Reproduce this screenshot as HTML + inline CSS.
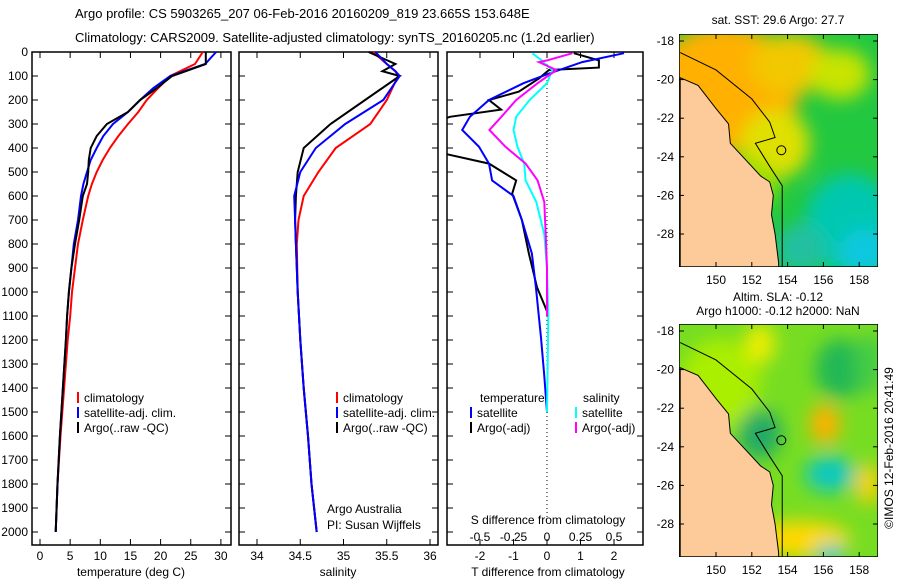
<!DOCTYPE html>
<html><head><meta charset="utf-8"><style>
body{margin:0;background:#fff;font-family:"Liberation Sans",sans-serif}
svg text{font-family:"Liberation Sans",sans-serif;font-size:12px;fill:#000}
</style></head><body>
<svg id="c" width="900" height="580" viewBox="0 0 900 580">
<text x="75" y="18" style="font-size:13px">Argo profile: CS 5903265_207 06-Feb-2016 20160209_819 23.665S 153.648E</text>
<text x="75" y="42" style="font-size:13px">Climatology: CARS2009. Satellite-adjusted climatology: synTS_20160205.nc (1.2d earlier)</text>
<defs>
<clipPath id="cp3"><rect x="447" y="52" width="196" height="493"/></clipPath>
<clipPath id="cm1"><rect x="679" y="34" width="199" height="233"/></clipPath>
<clipPath id="cm2"><rect x="679" y="324" width="199" height="233"/></clipPath>
<filter id="bl"><feGaussianBlur stdDeviation="9"/></filter>
</defs>
<g id="g"></g>
</svg>
<script>
const depthT=[0,50,100,150,200,250,300,350,400,450,500,550,600,700,800,900,1000,1100,1200,1400,1600,1800,2000];
const climT=[27.0,25.7,21.6,19.6,17.7,16.3,14.6,13.0,11.6,10.4,9.4,8.6,8.0,7.1,6.3,5.8,5.3,5.0,4.6,4.0,3.4,2.9,2.6];
const satT=[29.2,27.4,21.6,18.8,16.6,14.6,12.1,10.5,9.4,8.4,7.8,7.2,6.8,6.3,5.6,5.2,4.8,4.5,4.3,3.8,3.3,2.9,2.6];
const argoT=[27.5,27.5,21.9,19.4,16.6,14.6,11.1,9.4,8.4,8.1,8.0,7.8,7.1,6.5,5.8,5.2,4.8,4.5,4.3,3.8,3.3,2.9,2.6];
const depthS=[0,50,80,100,200,300,400,500,600,700,800,1000,1200,1400,1600,1800,2000];
const climS=[35.34,35.5,35.6,35.63,35.5,35.31,34.91,34.71,34.54,34.48,34.46,34.47,34.5,34.54,34.59,34.63,34.69];
const satS=[35.37,35.5,35.6,35.65,35.46,35.02,34.68,34.5,34.43,34.44,34.45,34.47,34.5,34.54,34.59,34.63,34.69];
const argoS=[35.29,35.6,35.45,35.65,35.25,34.85,34.54,34.47,34.45,34.44,34.45,34.47,34.5,34.54,34.59,34.63,34.69];
const depthDT=[5,42,90,130,200,270,325,395,465,535,600,700,840,980,1190,1350,1500];
const satDT=[2.3,1.05,0.06,-0.7,-1.73,-2.3,-2.53,-2.03,-1.73,-1.64,-1.0,-0.75,-0.45,-0.33,-0.18,-0.08,0];
const depthDTa=[5,35,65,75,110,165,200,240,270,300,410,465,535,590,700,840,980,1080];
const argoDT=[0.8,1.55,1.55,0.06,-0.24,-0.84,-1.73,-1.37,-2.9,-3.5,-3.5,-1.73,-0.92,-1.04,-0.75,-0.54,-0.3,0];
const depthDS=[5,35,42,75,130,200,270,325,395,465,535,625,760,900,1100,1300,1500];
const satDS=[-0.11,-0.04,-0.03,0.04,0,-0.13,-0.23,-0.25,-0.22,-0.17,-0.16,-0.08,-0.02,0,0.01,0.005,0];
const argoDS=[0.19,0.0,-0.06,0.07,-0.07,-0.23,-0.34,-0.43,-0.31,-0.16,-0.07,-0.02,-0.01,0,0];
const depthTicks=[0,100,200,300,400,500,600,700,800,900,1000,1100,1200,1300,1400,1500,1600,1700,1800,1900,2000];
const tTicks=[0,5,10,15,20,25,30];
const sTicks=["34","34.5","35","35.5","36"];
const dTTicks=["-2","-1","0","1","2"];
const dSTicks=["-0.5","-0.25","0","0.25","0.5"];
const latTicks=[-18,-20,-22,-24,-26,-28];
const lonTicks=[150,152,154,156,158];

const NS='http://www.w3.org/2000/svg';const G=document.getElementById('g');
function mk(t,a,txt){const e=document.createElementNS(NS,t);for(const k in a)e.setAttribute(k,a[k]);if(txt!==undefined)e.textContent=txt;G.appendChild(e);return e;}
const yD=d=>52+d*0.24;
const xT=v=>40+v*6.03, xS=v=>257+(v-34)*86.5, xdT=v=>547+v*33.5, xdS=v=>547+v*134;
function line(xs,ds,fx,col,name,clip){const pts=xs.map((v,i)=>fx(v).toFixed(1)+','+yD(ds[i]).toFixed(1)).join(' ');
 const e=mk('polyline',{points:pts,fill:'none',stroke:col,'stroke-width':2});
 
 
 if(clip)e.setAttribute('clip-path','url(#cp3)');}
const panels=[[32,231],[239,438],[447,643]];
panels.forEach((p,i)=>{const r=mk('rect',{x:p[0],y:52,width:p[1]-p[0],height:493,fill:'none',stroke:'#000','stroke-width':1.5});
 
 
 depthTicks.forEach(d=>{mk('line',{x1:p[0],x2:p[0]+6,y1:yD(d),y2:yD(d),stroke:'#000'});mk('line',{x1:p[1],x2:p[1]-6,y1:yD(d),y2:yD(d),stroke:'#000'});});
});
depthTicks.forEach(d=>{const t=mk('text',{x:28,y:yD(d)+4,'text-anchor':'end'},d);
 
 });
tTicks.forEach(v=>{mk('line',{x1:xT(v),x2:xT(v),y1:545,y2:539,stroke:'#000'});mk('line',{x1:xT(v),x2:xT(v),y1:52,y2:58,stroke:'#000'});
 const t=mk('text',{x:xT(v),y:560,'text-anchor':'middle'},v);});
sTicks.forEach(v=>{const x=xS(+v);mk('line',{x1:x,x2:x,y1:545,y2:539,stroke:'#000'});mk('line',{x1:x,x2:x,y1:52,y2:58,stroke:'#000'});
 const t=mk('text',{x:x,y:560,'text-anchor':'middle'},v);});
dTTicks.forEach(v=>{const x=xdT(+v);mk('line',{x1:x,x2:x,y1:545,y2:539,stroke:'#000'});mk('line',{x1:x,x2:x,y1:52,y2:58,stroke:'#000'});
 const t=mk('text',{x:x,y:560,'text-anchor':'middle'},v);});
dSTicks.forEach(v=>{const t=mk('text',{x:xdS(+v),y:541,'text-anchor':'middle'},v);});
mk('line',{x1:547,x2:547,y1:52,y2:520,stroke:'#000','stroke-dasharray':'1,3'});
[['temperature (deg C)',131],['salinity',338],['T difference from climatology',548]].forEach(a=>{const t=mk('text',{x:a[1],y:576,'text-anchor':'middle'},a[0]);});
const t0=mk('text',{x:548,y:524,'text-anchor':'middle'},'S difference from climatology');
line(climT,depthT,xT,'#f00','clim-temp-line');line(satT,depthT,xT,'#00f','sat-temp-line');line(argoT,depthT,xT,'#000','argo-temp-line');
line(climS,depthS,xS,'#f00','clim-sal-line');line(argoS,depthS,xS,'#000','argo-sal-line');line(satS,depthS,xS,'#00f','sat-sal-line');
line(argoDT,depthDTa,xdT,'#000','argo-tdiff-line',1);line(satDT,depthDT,xdT,'#00f','sat-tdiff-line',1);
line(satDS,depthDS,xdS,'#0ff','sat-sdiff-line',1);line(argoDS,depthDS.slice(0,argoDS.length),xdS,'#f0f','argo-sdiff-line',1);
function leg(x,y,col,txt){mk('line',{x1:x,x2:x,y1:y-10,y2:y+1,stroke:col,'stroke-width':2});const t=mk('text',{x:x+6,y:y},txt);}
[78,337].forEach(x=>{leg(x,402,'#f00','climatology');leg(x,417,'#00f','satellite-adj. clim.');leg(x,432,'#000','Argo(..raw -QC)');});
let tt=mk('text',{x:480,y:402},'temperature');
tt=mk('text',{x:583,y:402},'salinity');
leg(471,417,'#00f','satellite');leg(471,432,'#000','Argo(-adj)');leg(576,417,'#0ff','satellite');leg(576,432,'#f0f','Argo(-adj)');
tt=mk('text',{x:327,y:513},'Argo Australia');
tt=mk('text',{x:327,y:529},'PI: Susan Wijffels');

// maps
const xL=l=>716+(l-150)*17.9;
function map(y0,clip,blobs,name){
 const g=document.createElementNS(NS,'g');g.setAttribute('clip-path','url(#'+clip+')');G.appendChild(g);
 
 
 const add=(t,a)=>{const e=document.createElementNS(NS,t);for(const k in a)e.setAttribute(k,a[k]);g.appendChild(e);return e;};
 add('rect',{x:679,y:y0,width:199,height:233,fill:blobs[0]});
 const bg=add('g',{filter:'url(#bl)'});
 blobs.slice(1).forEach(b=>{const e=document.createElementNS(NS,'ellipse');e.setAttribute('cx',b[0]);e.setAttribute('cy',y0+b[1]);e.setAttribute('rx',b[2]);e.setAttribute('ry',b[3]);e.setAttribute('fill',b[4]);bg.appendChild(e);});
 const yl=la=>y0+7+(-18-la)*19.3;
 const coast=[[148,-19.9],[149,-20.3],[150,-21.5],[150.7,-22.3],[150.8,-23.3],[151.5,-24],[152.5,-25],[153,-25.3],[153.2,-26],[153.1,-27],[153.3,-28],[153.5,-29.5],[153.5,-30.5],[148,-30.5]];
 add('polygon',{points:coast.map(c=>xL(c[0])+','+yl(c[1])).join(' '),fill:'#fccb99',stroke:'#000','stroke-width':1});
 add('polyline',{points:[[148,-18.6],[150,-19.5],[152,-21],[153,-22.2],[153.3,-23],[152.2,-23.3],[153,-24.5],[153.7,-25.5],[153.7,-30]].map(c=>xL(c[0])+','+yl(c[1])).join(' '),fill:'none',stroke:'#000'});
 add('circle',{cx:xL(153.65),cy:yl(-23.66),r:4.5,fill:'none',stroke:'#000'});
 add('rect',{x:679,y:y0,width:199,height:233,fill:'none',stroke:'#000','stroke-width':1.5});
 latTicks.forEach(la=>{const y=yl(la);mk('line',{x1:679,x2:684,y1:y,y2:y,stroke:'#000'});mk('line',{x1:878,x2:873,y1:y,y2:y,stroke:'#000'});
  const t=mk('text',{x:674,y:y+4,'text-anchor':'end'},la);});
 lonTicks.forEach(lo=>{const x=xL(lo);mk('line',{x1:x,x2:x,y1:y0,y2:y0+5,stroke:'#000'});mk('line',{x1:x,x2:x,y1:y0+233,y2:y0+228,stroke:'#000'});
  const t=mk('text',{x:x,y:y0+250,'text-anchor':'middle'},lo);});
}
map(34,'cm1',['#22c840',[725,55,75,65,'#ffb000'],[790,30,40,30,'#f2c800'],[775,110,35,35,'#e0e000'],[840,40,30,25,'#c8e400'],[752,150,25,25,'#99e000'],[850,190,45,50,'#00c8b0'],[865,220,25,25,'#10c8e0'],[800,215,25,25,'#20c0a0']],'sst-map');
map(324,'cm2',['#77dd22',[720,60,40,45,'#aaee00'],[760,20,15,20,'#eeee00'],[840,45,25,30,'#22b855'],[870,40,15,30,'#44cc44'],[760,110,22,25,'#22aa66'],[825,100,15,20,'#ffb000'],[830,150,25,18,'#11c8c0'],[868,160,12,20,'#ffd000'],[800,215,50,18,'#ffd800'],[830,230,14,10,'#00c8d0']],'sla-map');
tt=mk('text',{x:778,y:24,'text-anchor':'middle'},'sat. SST: 29.6 Argo: 27.7');
tt=mk('text',{x:778,y:301,'text-anchor':'middle'},'Altim. SLA: -0.12');
tt=mk('text',{x:778,y:315,'text-anchor':'middle'},'Argo h1000: -0.12 h2000: NaN');
tt=mk('text',{x:893,y:448,'text-anchor':'middle',transform:'rotate(-90 893 448)'},'©IMOS 12-Feb-2016 20:41:49');
</script>
</body></html>
